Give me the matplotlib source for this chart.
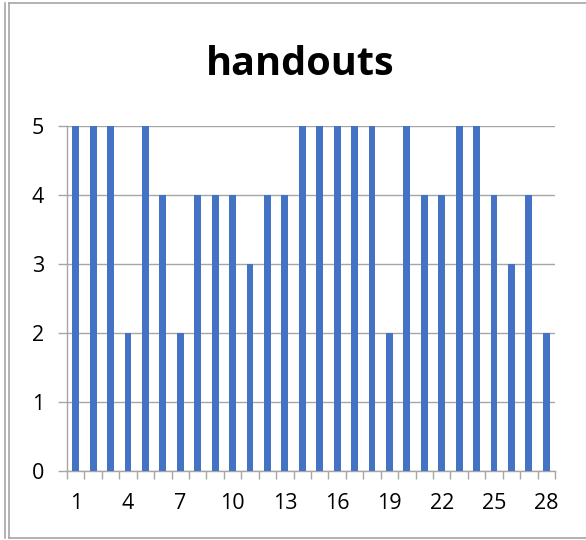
import numpy as np
import matplotlib
matplotlib.use('Agg')
import matplotlib.pyplot as plt
from matplotlib.lines import Line2D

# data
days = list(range(1, 29))
handouts = [5, 5, 5, 2, 5, 4, 2, 4, 4, 4, 3, 4, 4, 5,
            5, 5, 5, 5, 2, 5, 4, 4, 5, 5, 4, 3, 4, 2]
label_days = [1, 4, 7, 10, 13, 16, 19, 22, 25, 28]
y_ticks = [0, 1, 2, 3, 4, 5]

plt.rcParams['font.family'] = ['Open Sans', 'DejaVu Sans']
grey = '#a6a6a6'

fig = plt.figure(figsize=(5.86, 5.40), dpi=100)
ax = fig.add_axes([67/586, 1 - 471/540, (555 - 67)/586, (471 - 126)/540])

ax.bar(days, handouts, width=0.4, color='#4472C4', zorder=3)

ax.set_xlim(0.5, 28.5)
ax.set_ylim(0, 5)

# x: tick marks at category edges, labels on every third category
ax.set_xticks(np.arange(0.5, 29, 1))
ax.set_xticklabels([])
ax.tick_params(axis='x', which='major', length=6, color=grey, width=1, direction='out')
ax.set_xticks(label_days, minor=True)
ax.set_xticklabels([str(d) for d in label_days], minor=True)
ax.tick_params(axis='x', which='minor', length=0, pad=16, labelsize=15.5)

ax.set_yticks(y_ticks)
ax.set_yticklabels([str(v) for v in y_ticks])
ax.tick_params(axis='y', length=6.5, color=grey, width=1, pad=10, labelsize=15.5)

ax.grid(axis='y', color=grey, linewidth=1, zorder=0)
for side in ['top', 'right']:
    ax.spines[side].set_visible(False)
for side in ['left', 'bottom']:
    ax.spines[side].set_color(grey)
    ax.spines[side].set_linewidth(1)

fig.text(300/586, 1 - 75/540, 'handouts', ha='center', va='baseline',
         fontsize=28.5, fontweight='bold')

# chart frame
fw, fh = 586, 540
for x in [5, 9]:
    fig.add_artist(Line2D([x/fw, x/fw], [1 - 3/fh, 1 - 538/fh], color=grey, lw=1.2))
fig.add_artist(Line2D([9/fw, 1], [1 - 3/fh, 1 - 3/fh], color=grey, lw=1.2))
fig.add_artist(Line2D([9/fw, 1], [1 - 538/fh, 1 - 538/fh], color=grey, lw=1.2))

fig.savefig('out.png', dpi=100)
